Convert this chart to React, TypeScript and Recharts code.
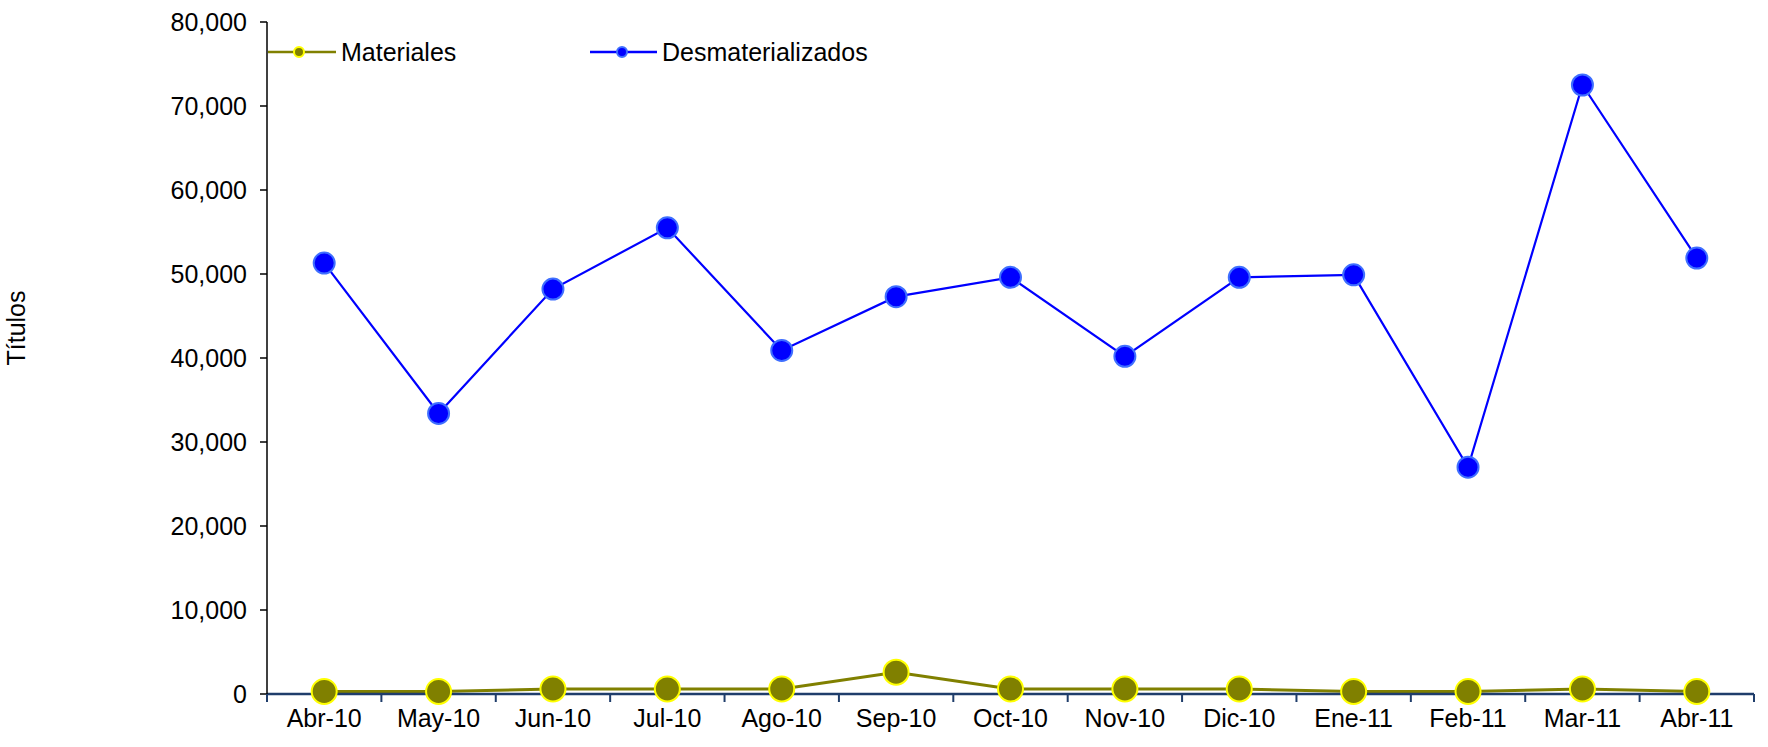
import React from 'react';
import { LineChart, Line, XAxis, YAxis, Legend } from 'recharts';

const months = [
  'Abr-10', 'May-10', 'Jun-10', 'Jul-10', 'Ago-10', 'Sep-10', 'Oct-10',
  'Nov-10', 'Dic-10', 'Ene-11', 'Feb-11', 'Mar-11', 'Abr-11'
];

const materiales = [300, 300, 600, 600, 600, 2600, 600, 600, 600, 300, 300, 600, 300];

const desmaterializados = [
  51300, 33400, 48200, 55500, 40900, 47300, 49600, 40200, 49600, 49900, 27000, 72500, 51900
];

const yTicks = [0, 10000, 20000, 30000, 40000, 50000, 60000, 70000, 80000];

const data = months.map((month, i) => ({
  month,
  materiales: materiales[i],
  desmaterializados: desmaterializados[i]
}));

const OLIVE = '#808000';
const YELLOW = '#FFFF00';
const BLUE = '#0000FF';
const BLUE_EDGE = '#3F6FFF';
const AXIS_NAVY = '#1F3D6B';
const FONT = '"Liberation Sans", Arial, sans-serif';

const WIDTH = 1768;
const HEIGHT = 747;
const PLOT_LEFT = 267;
const PLOT_RIGHT = 14;
const BAND = (WIDTH - PLOT_LEFT - PLOT_RIGHT) / months.length;

// ticks sit on the band boundaries, labels in the middle (Excel style)
function MonthTick(props: any) {
  const { x, y, payload, index } = props;
  return (
    <g>
      <line x1={x - BAND / 2} x2={x - BAND / 2} y1={y} y2={y + 8} stroke={AXIS_NAVY} strokeWidth={2} />
      {index === months.length - 1 && (
        <line x1={x + BAND / 2} x2={x + BAND / 2} y1={y} y2={y + 8} stroke={AXIS_NAVY} strokeWidth={2} />
      )}
      <text x={x} y={y + 33} textAnchor="middle" fill="#000" fontSize={25} fontFamily={FONT}>
        {payload.value}
      </text>
    </g>
  );
}

function LegendBox() {
  return (
    <svg width={640} height={30} style={{ display: 'block' }}>
      <line x1={0} x2={68} y1={15} y2={15} stroke={OLIVE} strokeWidth={2.5} />
      <circle cx={31} cy={15} r={5} fill={OLIVE} stroke={YELLOW} strokeWidth={2} />
      <text x={73} y={24} fontSize={25} fontFamily={FONT} fill="#000">Materiales</text>
      <line x1={322} x2={389} y1={15} y2={15} stroke={BLUE} strokeWidth={2.5} />
      <circle cx={354} cy={15} r={5} fill={BLUE} stroke={BLUE_EDGE} strokeWidth={2} />
      <text x={394} y={24} fontSize={25} fontFamily={FONT} fill="#000">Desmaterializados</text>
    </svg>
  );
}

export default function App() {
  return (
    <div style={{ position: 'absolute', left: 0, top: 0, fontFamily: FONT, background: '#fff' }}>
      <LineChart
        width={WIDTH}
        height={HEIGHT}
        data={data}
        margin={{ top: 22, right: PLOT_RIGHT, bottom: 0, left: 0 }}
      >
        <XAxis
          dataKey="month"
          interval={0}
          height={53}
          padding={{ left: BAND / 2, right: BAND / 2 }}
          axisLine={{ stroke: AXIS_NAVY, strokeWidth: 2.5 }}
          tickLine={false}
          tickSize={0}
          tickMargin={0}
          tick={<MonthTick />}
        />
        <YAxis
          width={PLOT_LEFT}
          domain={[0, 80000]}
          ticks={yTicks}
          interval={0}
          tickFormatter={(v: number) => v.toLocaleString('en-US')}
          axisLine={{ stroke: '#000', strokeWidth: 1.5 }}
          tickLine={{ stroke: '#000', strokeWidth: 1.5 }}
          tickSize={7}
          tickMargin={13}
          tick={{ fill: '#000', fontSize: 25, fontFamily: FONT }}
          label={{
            content: () => (
              <text
                x={25}
                y={328}
                transform="rotate(-90, 25, 328)"
                textAnchor="middle"
                fontSize={25}
                fontFamily={FONT}
                fill="#000"
              >
                Títulos
              </text>
            )
          }}
        />
        <Legend
          layout="horizontal"
          verticalAlign="middle"
          align="center"
          wrapperStyle={{ left: 268, top: 37, width: 640 }}
          content={() => <LegendBox />}
        />
        <Line
          type="linear"
          dataKey="materiales"
          stroke={OLIVE}
          strokeWidth={3}
          dot={{ r: 12.5, fill: OLIVE, stroke: YELLOW, strokeWidth: 2 }}
          activeDot={false}
          isAnimationActive={false}
        />
        <Line
          type="linear"
          dataKey="desmaterializados"
          stroke={BLUE}
          strokeWidth={2.2}
          dot={{ r: 10.5, fill: BLUE, stroke: BLUE_EDGE, strokeWidth: 2 }}
          activeDot={false}
          isAnimationActive={false}
        />
      </LineChart>
    </div>
  );
}
